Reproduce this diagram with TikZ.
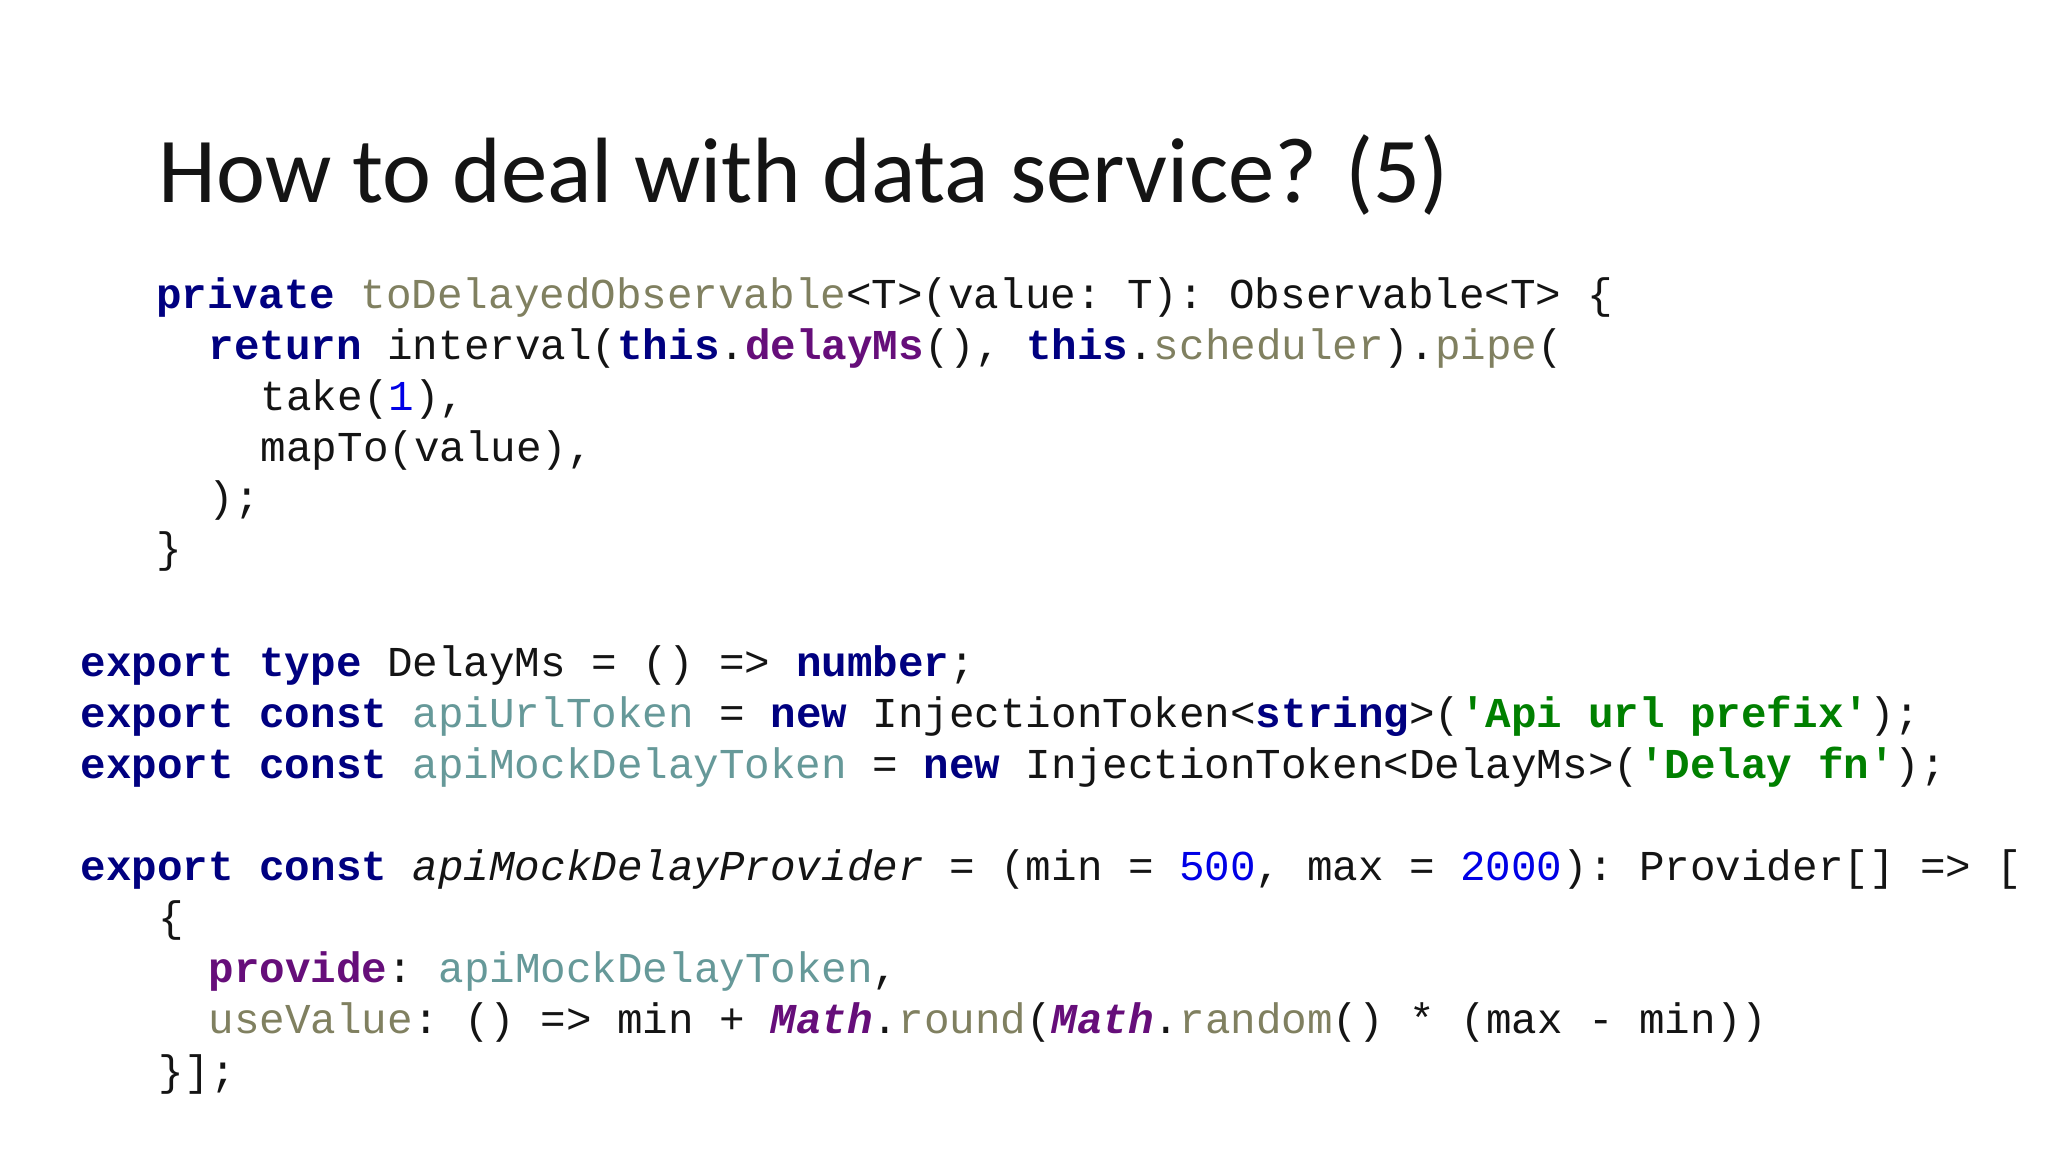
\documentclass[tikz,border=0pt]{standalone}
\usepackage{fontspec}
\setmainfont{Carlito}
\setmonofont{Liberation Mono}
\definecolor{kw}{RGB}{0,0,128}
\definecolor{pu}{RGB}{102,14,122}
\definecolor{ol}{RGB}{128,128,96}
\definecolor{te}{RGB}{102,153,153}
\definecolor{nu}{RGB}{0,0,230}
\definecolor{st}{RGB}{0,128,0}
\definecolor{tx}{RGB}{20,20,20}
\newcommand\ckw[1]{\textcolor{kw}{\textbf{#1}}}
\newcommand\cpu[1]{\textcolor{pu}{\textbf{#1}}}
\newcommand\cpui[1]{\textcolor{pu}{\textbf{\textit{#1}}}}
\newcommand\col[1]{\textcolor{ol}{#1}}
\newcommand\cte[1]{\textcolor{te}{#1}}
\newcommand\cnum[1]{\textcolor{nu}{#1}}
\newcommand\cst[1]{\textcolor{st}{\textbf{#1}}}
\tikzset{code/.style={anchor=base west,inner sep=0pt,text=tx,font=\ttfamily\fontsize{9.27pt}{11pt}\selectfont}}
\begin{document}
\begin{tikzpicture}[x=0.01cm,y=-0.01cm]
\useasboundingbox[fill=white] (0,0) rectangle (1568,882);
\node[anchor=base west,inner sep=0pt,text=tx,font=\fontsize{20.2pt}{24pt}\selectfont] (title) at (121,155) {How to deal with data service? (5)};
\node[code] (l1) at (119,236) {\ckw{private} \col{toDelayedObservable}<T>(value: T): Observable<T> \{};
\node[code] (l2) at (159,275) {\ckw{return} interval(\ckw{this}.\cpu{delayMs}(), \ckw{this}.\col{scheduler}).\col{pipe}(};
\node[code] (l3) at (199,314) {take(\cnum{1}),};
\node[code] (l4) at (199,353) {mapTo(value),};
\node[code] (l5) at (159,392) {);};
\node[code] (l6) at (119,431) {\}};
\node[code] (l7) at (61,518) {\ckw{export} \ckw{type} DelayMs = () => \ckw{number};};
\node[code] (l8) at (61,557) {\ckw{export} \ckw{const} \cte{apiUrlToken} = \ckw{new} InjectionToken<\ckw{string}>(\cst{'Api url prefix'});};
\node[code] (l9) at (61,596) {\ckw{export} \ckw{const} \cte{apiMockDelayToken} = \ckw{new} InjectionToken<DelayMs>(\cst{'Delay fn'});};
\node[code] (l10) at (61,674) {\ckw{export} \ckw{const} \textit{apiMockDelayProvider} = (min = \cnum{500}, max = \cnum{2000}): Provider[] => [};
\node[code] (l11) at (121,713) {\{};
\node[code] (l12) at (159,752) {\cpu{provide}: \cte{apiMockDelayToken},};
\node[code] (l13) at (159,791) {\col{useValue}: () => min + \cpui{Math}.\col{round}(\cpui{Math}.\col{random}() * (max - min))};
\node[code] (l14) at (121,831) {\}];};
\end{tikzpicture}
\end{document}
